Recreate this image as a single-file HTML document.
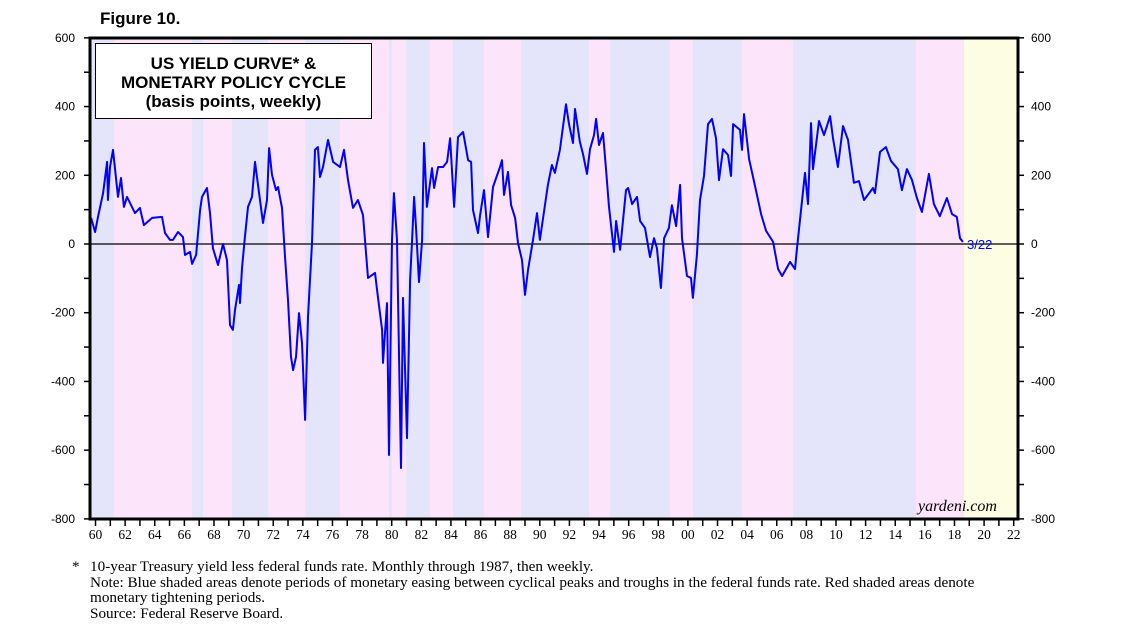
<!DOCTYPE html>
<html><head><meta charset="utf-8"><style>
body{margin:0;background:#fff;width:1138px;height:635px;overflow:hidden}
svg{display:block}
</style></head><body>
<svg id="c" width="1138" height="635" xmlns="http://www.w3.org/2000/svg"></svg>
<script>
const shadeStarts=[1959.70,1961.25,1966.52,1967.26,1969.22,1971.65,1974.15,1976.51,1979.82,1980.02,1980.97,1982.59,1984.14,1986.23,1988.73,1993.32,1994.74,1998.79,2000.34,2003.65,2007.09,2015.40,2018.64];
const shadeEnds=[1961.25,1966.52,1967.26,1969.22,1971.65,1974.15,1976.51,1979.82,1980.02,1980.97,1982.59,1984.14,1986.23,1988.73,1993.32,1994.74,1998.79,2000.34,2003.65,2007.09,2015.40,2018.64,2022.29];
const shadeTypes=["e","t","e","t","e","t","e","t","e","t","e","t","e","t","e","t","e","t","e","t","e","t","f"];
const years=[1959.70,1959.97,1960.17,1960.51,1960.78,1960.84,1960.98,1961.18,1961.52,1961.72,1961.92,1962.13,1962.67,1963.00,1963.27,1963.82,1964.49,1964.69,1965.03,1965.23,1965.57,1965.91,1966.04,1966.38,1966.52,1966.79,1967.06,1967.19,1967.53,1967.73,1967.93,1968.27,1968.61,1968.88,1969.08,1969.28,1969.42,1969.69,1969.76,1969.89,1970.09,1970.30,1970.57,1970.77,1970.97,1971.31,1971.58,1971.72,1971.92,1972.19,1972.32,1972.59,1972.80,1973.00,1973.20,1973.34,1973.54,1973.74,1973.94,1974.15,1974.35,1974.62,1974.82,1975.02,1975.16,1975.36,1975.70,1976.04,1976.51,1976.78,1977.05,1977.39,1977.72,1978.06,1978.40,1978.87,1979.07,1979.35,1979.41,1979.55,1979.68,1979.82,1980.02,1980.15,1980.36,1980.63,1980.76,1981.03,1981.24,1981.37,1981.51,1981.64,1981.84,1982.05,1982.18,1982.38,1982.72,1982.86,1983.13,1983.47,1983.74,1983.94,1984.21,1984.48,1984.82,1985.16,1985.36,1985.49,1985.83,1985.97,1986.23,1986.50,1986.84,1987.31,1987.45,1987.58,1987.85,1988.06,1988.33,1988.53,1988.80,1989.00,1989.20,1989.54,1989.81,1990.01,1990.22,1990.55,1990.82,1991.02,1991.36,1991.63,1991.77,1991.97,1992.24,1992.38,1992.71,1992.92,1993.19,1993.39,1993.66,1993.80,1994.00,1994.27,1994.47,1994.67,1995.01,1995.15,1995.42,1995.82,1995.96,1996.23,1996.56,1996.77,1997.10,1997.44,1997.71,1997.91,1998.18,1998.39,1998.72,1998.92,1999.20,1999.47,1999.60,1999.94,2000.21,2000.34,2000.61,2000.82,2001.09,2001.36,2001.63,2001.90,2002.10,2002.37,2002.71,2002.91,2003.05,2003.52,2003.65,2003.79,2004.13,2004.53,2004.94,2005.28,2005.75,2006.09,2006.36,2006.90,2007.23,2007.37,2007.71,2007.91,2008.11,2008.31,2008.45,2008.85,2009.19,2009.60,2009.80,2010.13,2010.47,2010.81,2011.21,2011.55,2011.89,2012.50,2012.63,2012.97,2013.37,2013.71,2014.18,2014.45,2014.79,2015.13,2015.46,2015.80,2016.27,2016.61,2017.01,2017.49,2017.83,2018.16,2018.37,2018.57];
const values=[76,35,79,148,239,128,224,274,137,192,108,137,90,105,55,76,79,32,12,12,35,20,-32,-23,-58,-32,99,137,163,90,-12,-61,0,-47,-236,-250,-192,-119,-172,-70,20,108,137,239,172,61,128,279,201,157,166,105,-41,-163,-329,-367,-329,-201,-288,-512,-212,3,274,282,195,224,303,239,224,274,186,105,128,84,-99,-84,-154,-250,-346,-259,-172,-614,12,148,12,-652,-157,-565,-105,6,137,49,-111,12,294,108,221,163,224,224,239,308,108,311,326,244,239,99,32,84,157,20,166,224,244,143,210,113,76,3,-47,-148,-76,12,90,12,76,172,230,207,274,361,407,349,294,393,297,262,204,276,317,364,288,323,218,108,-23,67,-17,157,163,116,137,67,47,-38,17,-12,-128,17,47,113,52,172,17,-93,-99,-157,-32,128,198,349,364,308,186,276,259,198,349,332,274,378,247,169,87,38,6,-73,-93,-52,-73,-12,128,207,116,352,218,358,317,372,308,224,343,303,178,183,128,163,148,268,282,242,218,157,218,186,134,93,204,116,81,134,87,79,17,6];
const yTicks=[600,400,200,0,-200,-400,-600,-800];
const xLabels=["60","62","64","66","68","70","72","74","76","78","80","82","84","86","88","90","92","94","96","98","00","02","04","06","08","10","12","14","16","18","20","22"];

const NS="http://www.w3.org/2000/svg";
const svg=document.getElementById('c');
const L=90,R=1018,T=38,B=519;
const X=yr=>95.5+(yr-1960)*14.81;
const Y=v=>244-v*0.3436;
function el(tag,attrs,parent){const e=document.createElementNS(NS,tag);for(const k in attrs)e.setAttribute(k,attrs[k]);(parent||svg).appendChild(e);return e;}
const colors={e:"#e4e4fa",t:"#fce4fa",f:"#fdfde4"};
for(let i=0;i<shadeStarts.length;i++){
  const x0=Math.max(L,X(shadeStarts[i])),x1=Math.min(R,X(shadeEnds[i]));
  const r=el('rect',{x:x0,y:T,width:x1-x0,height:B-T,fill:colors[shadeTypes[i]]});
  
  
}
const z=el('line',{x1:L,x2:R,y1:Y(0),y2:Y(0),stroke:"#000","stroke-width":1.2});


let d="";
for(let i=0;i<years.length;i++)d+=(i?"L":"M")+X(years[i]).toFixed(1)+","+Y(values[i]).toFixed(1);
const p=el('path',{d:d,fill:"none",stroke:"#0000ff","stroke-width":2,"stroke-linejoin":"round"});


const f=el('rect',{x:L,y:T,width:R-L,height:B-T,fill:"none",stroke:"#000","stroke-width":3});


for(let v=-800;v<=600;v+=100){
  el('line',{x1:L-6,x2:L,y1:Y(v),y2:Y(v),stroke:"#000","stroke-width":1.5});
  el('line',{x1:R,x2:R+6,y1:Y(v),y2:Y(v),stroke:"#000","stroke-width":1.5});
}
yTicks.forEach(v=>{
  const a=el('text',{x:75,y:Y(v)+4,"text-anchor":"end","font-family":"Liberation Sans, sans-serif","font-size":12});
  a.textContent=v;
  
  
  const b=el('text',{x:1031,y:Y(v)+4,"font-family":"Liberation Sans, sans-serif","font-size":12});
  b.textContent=v;
  
  
});
for(let yr=1960;yr<=2022;yr++){
  el('line',{x1:X(yr),x2:X(yr),y1:B,y2:B+7,stroke:"#000","stroke-width":1.5});
}
xLabels.forEach((s,i)=>{
  const t=el('text',{x:X(1960+2*i),y:539,"text-anchor":"middle","font-family":"Liberation Serif, serif","font-size":13.5});
  t.textContent=s;
  
  
});
const e=el('text',{x:967,y:249,fill:"#0000ff","font-family":"Liberation Sans, sans-serif","font-size":13});
e.textContent="3/22";


</script>
<div style="position:absolute;left:100px;top:9px;font:bold 17px 'Liberation Sans',sans-serif">Figure 10.</div>
<div style="position:absolute;left:95px;top:43px;width:277px;height:76px;border:1px solid #000;background:#fff;font:bold 17px/19px 'Liberation Sans',sans-serif;text-align:center;box-sizing:border-box;padding-top:10px">US YIELD CURVE* &amp;<br>MONETARY POLICY CYCLE<br>(basis points, weekly)</div>
<div style="position:absolute;left:918px;top:498px;font:italic 16px 'Liberation Serif',serif">yardeni.com</div>
<div style="position:absolute;left:72px;top:559px;font:15.2px/15.5px 'Liberation Serif',serif;width:1050px">
<div><span style="position:absolute;left:0">*</span><span style="margin-left:18px">10-year Treasury yield less federal funds rate. Monthly through 1987, then weekly.</span></div>
<div style="margin-left:18px;width:905px">Note: Blue shaded areas denote periods of monetary easing between cyclical peaks and troughs in the federal funds rate. Red shaded areas denote monetary tightening periods.</div>
<div style="margin-left:18px">Source: Federal Reserve Board.</div>
</div>
</body></html>
